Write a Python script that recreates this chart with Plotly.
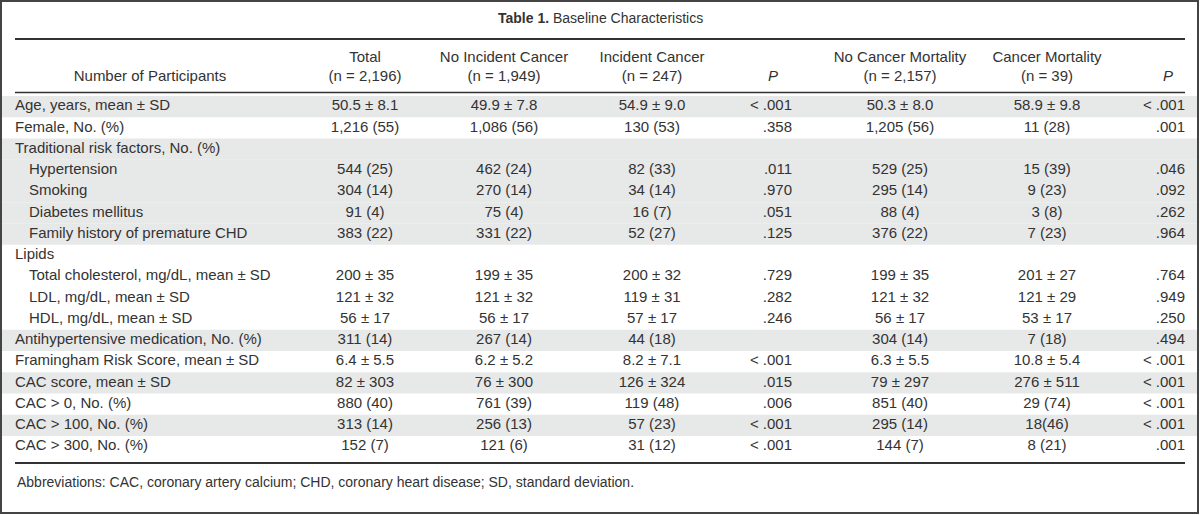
import plotly.graph_objects as go

# ---------------- data ----------------
title_bold = "Table 1."
title_rest = "Baseline Characteristics"
header_line1 = ["", "Total", "No Incident Cancer", "Incident Cancer", "", "No Cancer Mortality", "Cancer Mortality", ""]
header_line2 = ["Number of Participants", "(n = 2,196)", "(n = 1,949)", "(n = 247)", "P", "(n = 2,157)", "(n = 39)", "P"]

labels = ["Age, years, mean ± SD", "Female, No. (%)", "Traditional risk factors, No. (%)",
          "Hypertension", "Smoking", "Diabetes mellitus", "Family history of premature CHD",
          "Lipids", "Total cholesterol, mg/dL, mean ± SD", "LDL, mg/dL, mean ± SD",
          "HDL, mg/dL, mean ± SD", "Antihypertensive medication, No. (%)",
          "Framingham Risk Score, mean ± SD", "CAC score, mean ± SD", "CAC > 0, No. (%)",
          "CAC > 100, No. (%)", "CAC > 300, No. (%)"]
indented = [0, 0, 0, 1, 1, 1, 1, 0, 1, 1, 1, 0, 0, 0, 0, 0, 0]
shaded = [1, 0, 1, 1, 1, 1, 1, 0, 0, 0, 0, 1, 0, 1, 0, 1, 0]

total = ["50.5 ± 8.1", "1,216 (55)", "", "544 (25)", "304 (14)", "91 (4)", "383 (22)", "",
         "200 ± 35", "121 ± 32", "56 ± 17", "311 (14)", "6.4 ± 5.5", "82 ± 303", "880 (40)",
         "313 (14)", "152 (7)"]
no_incident = ["49.9 ± 7.8", "1,086 (56)", "", "462 (24)", "270 (14)", "75 (4)", "331 (22)", "",
               "199 ± 35", "121 ± 32", "56 ± 17", "267 (14)", "6.2 ± 5.2", "76 ± 300", "761 (39)",
               "256 (13)", "121 (6)"]
incident = ["54.9 ± 9.0", "130 (53)", "", "82 (33)", "34 (14)", "16 (7)", "52 (27)", "",
            "200 ± 32", "119 ± 31", "57 ± 17", "44 (18)", "8.2 ± 7.1", "126 ± 324", "119 (48)",
            "57 (23)", "31 (12)"]
p_incident = ["< .001", ".358", "", ".011", ".970", ".051", ".125", "", ".729", ".282", ".246", "",
              "< .001", ".015", ".006", "< .001", "< .001"]
no_mortality = ["50.3 ± 8.0", "1,205 (56)", "", "529 (25)", "295 (14)", "88 (4)", "376 (22)", "",
                "199 ± 35", "121 ± 32", "56 ± 17", "304 (14)", "6.3 ± 5.5", "79 ± 297", "851 (40)",
                "295 (14)", "144 (7)"]
mortality = ["58.9 ± 9.8", "11 (28)", "", "15 (39)", "9 (23)", "3 (8)", "7 (23)", "",
             "201 ± 27", "121 ± 29", "53 ± 17", "7 (18)", "10.8 ± 5.4", "276 ± 511", "29 (74)",
             "18(46)", "8 (21)"]
p_mortality = ["< .001", ".001", "", ".046", ".092", ".262", ".964", "", ".764", ".949", ".250", ".494",
               "< .001", "< .001", "< .001", "< .001", ".001"]

footnote = "Abbreviations: CAC, coronary artery calcium; CHD, coronary heart disease; SD, standard deviation."

# ---------------- layout parameters ----------------
W, H = 1200, 515
FONT = "Liberation Sans, Arial, sans-serif"
FS = 15
TXT = "#333333"
SHADE = "#e7e8e8"
RULE = "#333333"

left_x = 15
indent_dx = 14
right_x = 1185
col_x = [365, 504, 652, 792, 900, 1047, 1185]
col_pos = ["middle center", "middle center", "middle center", "middle left",
           "middle center", "middle center", "middle left"]
col_anchor = ["center", "center", "center", "right", "center", "center", "right"]
header_x = [150, 365, 504, 652, 773, 900, 1047, 1168]

row_top = 96.0
row_h = 21.25
n_rows = len(labels)
row_y = [row_top + row_h * (i + 0.5) for i in range(n_rows)]


def esc(s):
    return s.replace("<", "&lt;").replace(">", "&gt;")


fig = go.Figure()

# shaded rows
shapes = []
for i, s in enumerate(shaded):
    if s:
        shapes.append(dict(type="rect", xref="x", yref="y", x0=2, x1=W - 3,
                           y0=row_top + row_h * i, y1=row_top + row_h * (i + 1),
                           fillcolor=SHADE, line=dict(width=0), layer="below"))
# rules
shapes.append(dict(type="line", xref="x", yref="y", x0=left_x, x1=right_x, y0=39, y1=39,
                   line=dict(color=RULE, width=2)))
shapes.append(dict(type="line", xref="x", yref="y", x0=left_x, x1=right_x, y0=92.5, y1=92.5,
                   line=dict(color=RULE, width=1.6)))
shapes.append(dict(type="line", xref="x", yref="y", x0=left_x, x1=right_x, y0=463, y1=463,
                   line=dict(color=RULE, width=2)))
# outer border
shapes.append(dict(type="rect", xref="x", yref="y", x0=1, x1=W - 2, y0=1, y1=H - 2,
                   line=dict(color="#444444", width=2), fillcolor="rgba(0,0,0,0)"))

# row labels
fig.add_trace(go.Scatter(
    x=[left_x + indent_dx * d for d in indented], y=row_y,
    text=[esc(t) for t in labels], mode="text", textposition="middle right",
    textfont=dict(family=FONT, size=FS, color=TXT), hoverinfo="skip", showlegend=False))

columns = [total, no_incident, incident, p_incident, no_mortality, mortality, p_mortality]
for cx, pos, vals in zip(col_x, col_pos, columns):
    fig.add_trace(go.Scatter(
        x=[cx] * n_rows, y=row_y, text=[esc(v) for v in vals], mode="text",
        textposition=pos, textfont=dict(family=FONT, size=FS, color=TXT),
        hoverinfo="skip", showlegend=False))

# headers
fig.add_trace(go.Scatter(
    x=header_x, y=[58] * len(header_x), text=header_line1, mode="text",
    textposition="middle center", textfont=dict(family=FONT, size=FS, color=TXT),
    hoverinfo="skip", showlegend=False))
fig.add_trace(go.Scatter(
    x=header_x, y=[77] * len(header_x),
    text=["<i>P</i>" if t == "P" else t for t in header_line2], mode="text",
    textposition="middle center", textfont=dict(family=FONT, size=FS, color=TXT),
    hoverinfo="skip", showlegend=False))

annotations = [
    dict(x=600, y=18, xref="x", yref="y", text=f"<b>{title_bold}</b> {title_rest}",
         showarrow=False, xanchor="center", yanchor="middle",
         font=dict(family=FONT, size=FS - 1, color=TXT)),
    dict(x=left_x, y=482, xref="x", yref="y", text=footnote, showarrow=False,
         xanchor="left", yanchor="middle", font=dict(family=FONT, size=FS - 1, color=TXT)),
]

fig.update_layout(
    width=W, height=H, margin=dict(l=0, r=0, t=0, b=0),
    paper_bgcolor="white", plot_bgcolor="white",
    xaxis=dict(range=[0, W], visible=False, fixedrange=True),
    yaxis=dict(range=[H, 0], visible=False, fixedrange=True),
    shapes=shapes, annotations=annotations,
)

fig.write_html("out.html", config={"displayModeBar": False, "staticPlot": True},
               post_script="document.body.style.margin='0';document.body.style.overflow='hidden';")
